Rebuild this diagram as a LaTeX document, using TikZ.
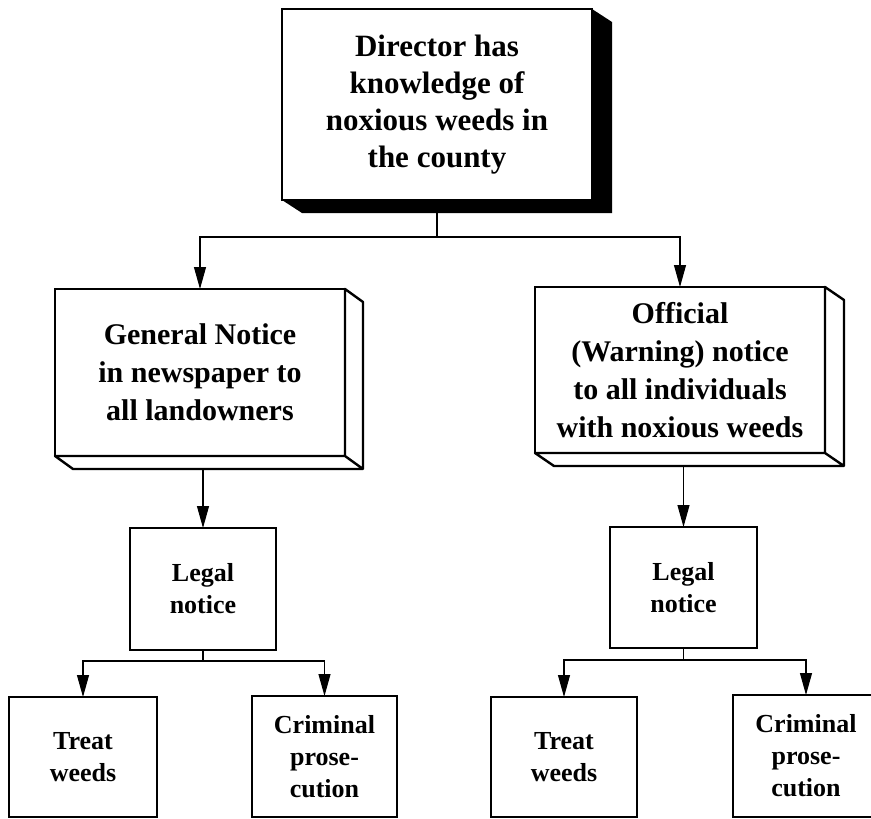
\documentclass[tikz,border=0pt]{standalone}
\usepackage{fontspec}
\setmainfont{Liberation Serif}
\usetikzlibrary{arrows.meta}

\begin{document}
\begin{tikzpicture}[x=1pt, y=-1pt,
    box/.style={draw, line width=2.4pt, fill=white, align=center, inner sep=0pt, outer sep=0pt},
    big/.style={font=\bfseries\fontsize{31}{37}\selectfont},
    mid/.style={font=\bfseries\fontsize{30}{38}\selectfont},
    small/.style={font=\bfseries\fontsize{26}{32}\selectfont},
    face/.style={draw, line width=2.4pt, fill=white, line join=round},
    arr/.style={-{Triangle[length=22pt, width=12pt]}, line width=1.1pt}]
    \useasboundingbox (0, 0) rectangle (871, 819);
    % boxes
    \node[box, big, minimum width=310pt, minimum height=191pt] (dir) at (437, 104.5) {Director has\\knowledge of\\noxious weeds in\\the county};
    \node[box, mid, minimum width=290pt, minimum height=167pt] (gen) at (200, 372.5) {General Notice\\in newspaper to\\all landowners};
    \node[box, mid, minimum width=290pt, minimum height=166pt] (off) at (680, 370) {Official\\(Warning) notice\\to all individuals\\with noxious weeds};
    \node[box, small, minimum width=146pt, minimum height=122pt] (legL) at (203, 589) {Legal\\notice};
    \node[box, small, minimum width=147pt, minimum height=121pt] (legR) at (683.5, 587.5) {Legal\\notice};
    \node[box, small, minimum width=148pt, minimum height=120pt] (treatL) at (83, 757) {Treat\\weeds};
    \node[box, small, minimum width=145pt, minimum height=121pt] (crimL) at (324.5, 756.5) {Criminal\\prose-\\cution};
    \node[box, small, minimum width=146pt, minimum height=120pt] (treatR) at (564, 757) {Treat\\weeds};
    \node[box, small, minimum width=146pt, minimum height=122pt] (crimR) at (806, 756) {Criminal\\prose-\\cution};
    % connectors
    \draw[arr] (dir.south) -- ++(0, 37) -| (gen.north);
    \draw[arr] (dir.south) -- ++(0, 37) -| (off.north);
    \draw[arr] (legL.north |- gen.south) -- (legL.north);
    \draw[arr] (legR.north |- off.south) -- (legR.north);
    \draw[arr] (legL.south) -- ++(0, 11) -| (treatL.north);
    \draw[arr] (legL.south) -- ++(0, 11) -| (crimL.north);
    \draw[arr] (legR.south) -- ++(0, 12) -| (treatR.north);
    \draw[arr] (legR.south) -- ++(0, 12) -| (crimR.north);
    % shadow and sides
    \fill (dir.north east) -- ++(20, 13) -- ([shift={(20, 13)}]dir.south east) -- ([shift={(20, 13)}]dir.south west) -- (dir.south west) -- (dir.south east) -- cycle;
    \draw[face] (gen.north east) -- ++(18, 13) -- ([shift={(18, 13)}]gen.south east) -- ([shift={(18, 13)}]gen.south west) -- (gen.south west) -- (gen.south east) -- cycle (gen.south east) -- ++(18, 13);
    \draw[face] (off.north east) -- ++(19, 13) -- ([shift={(19, 13)}]off.south east) -- ([shift={(19, 13)}]off.south west) -- (off.south west) -- (off.south east) -- cycle (off.south east) -- ++(19, 13);
\end{tikzpicture}
\end{document}
